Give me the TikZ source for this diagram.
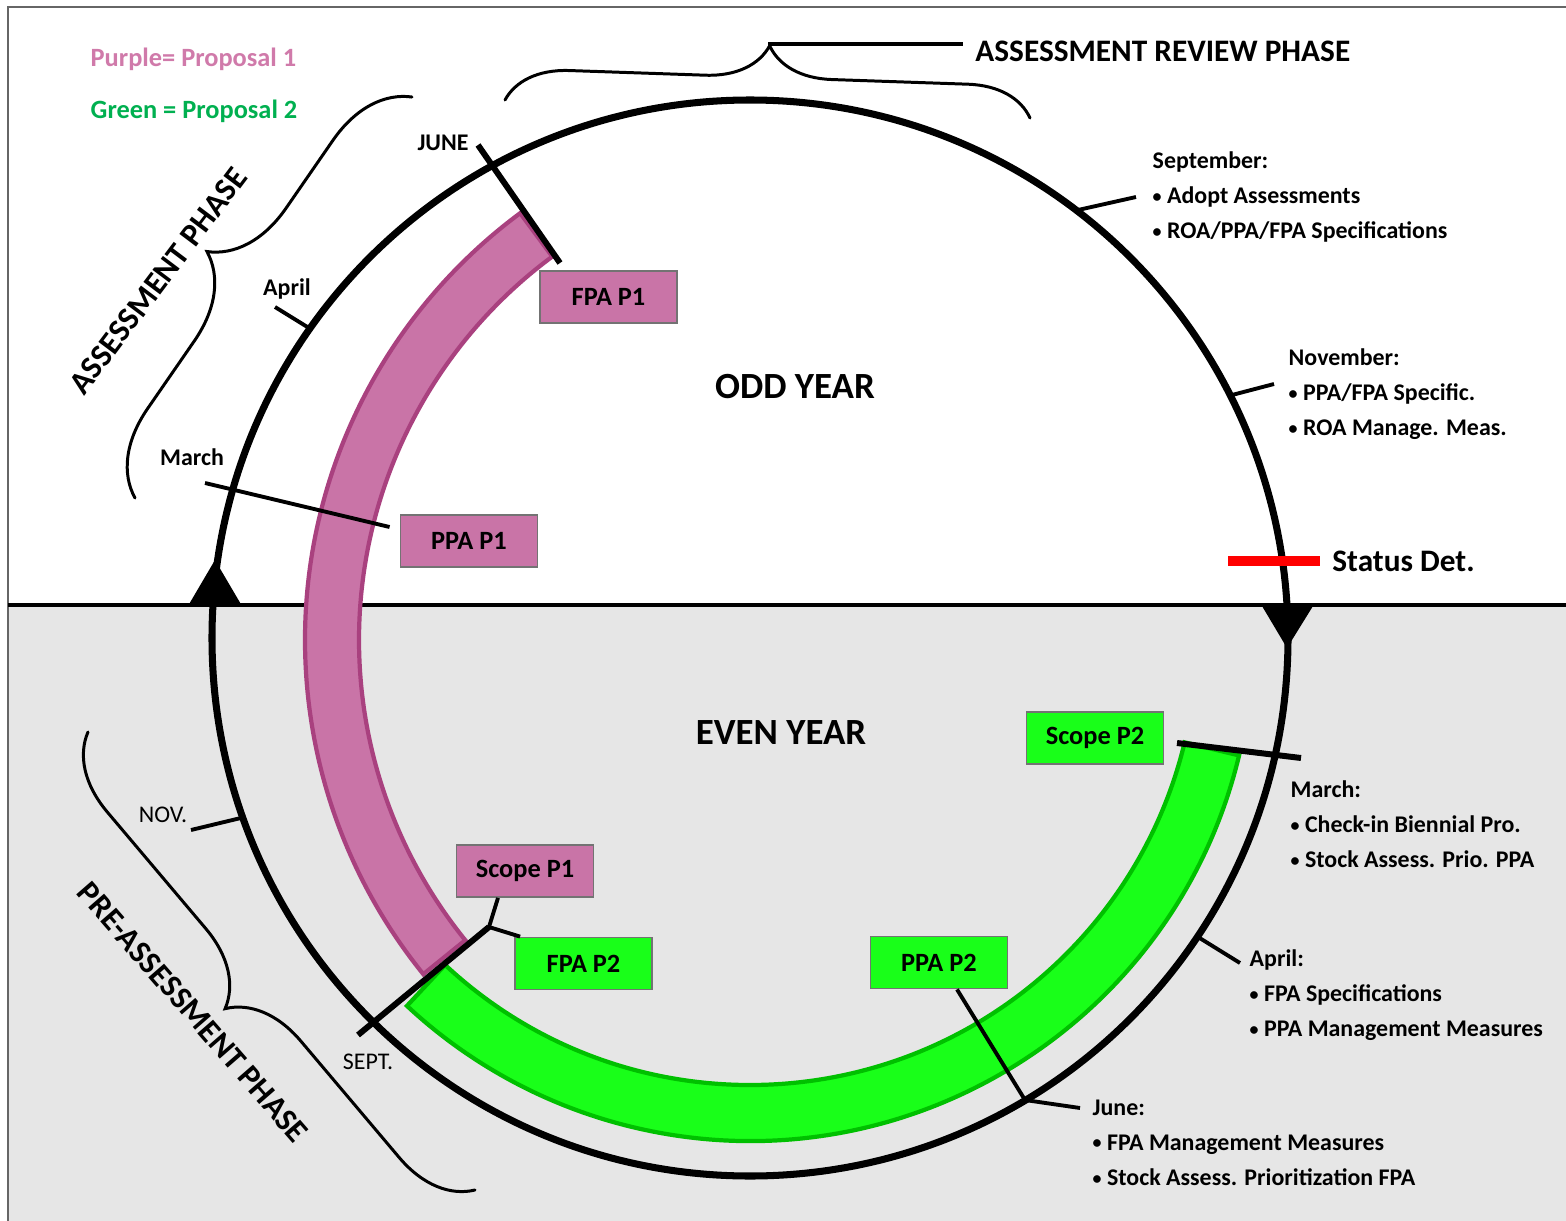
\documentclass[tikz,border=0pt]{standalone}
\usepackage{fontspec}
\setmainfont{Carlito}
\usetikzlibrary{calc,decorations.pathreplacing}

\definecolor{propone}{HTML}{C974A7}
\definecolor{proponeedge}{HTML}{A9417F}
\definecolor{proptwo}{HTML}{19FF19}
\definecolor{proptwoedge}{HTML}{00C000}
\definecolor{evenshade}{HTML}{E6E6E6}
\definecolor{legendpink}{HTML}{D07AAA}
\definecolor{legendgreen}{HTML}{00B050}

\newcommand{\nb}{\raisebox{0.12ex}{\scalebox{0.75}{\textbullet}}\ }

\tikzset{
  yearbox/.style={draw=black!55, line width=0.5pt, minimum width=1.37cm, minimum height=0.52cm,
    inner sep=0pt, font=\bfseries\fontsize{7.5}{9}\selectfont},
  monthtick/.style={line width=1.1pt},
  bigtick/.style={line width=1.7pt},
  phasebrace/.style={decorate, line width=0.85pt, line cap=round, decoration={brace, amplitude=#1}},
  monthlbl/.style={font=\bfseries\fontsize{6.8}{8}\selectfont},
  note/.style={inner sep=0pt, anchor=north west, align=left, font=\bfseries\fontsize{6.8}{10}\selectfont},
}

\begin{document}
\begin{tikzpicture}[x=0.01cm, y=0.01cm]
  \useasboundingbox (0,0) rectangle (1566,-1221);
  \fill[white] (0,0) rectangle (1566,-1221);
  \fill[evenshade] (8,-605) rectangle (1566,-1221);
  \draw[black!60, line width=0.6pt] (8,-1221) -- (8,-7) -- (1566,-7);
  \draw[line width=1.4pt] (8,-605) -- (1566,-605);

  \coordinate (hub) at (750,-638);
  \coordinate (pcen) at (836,-640);

  % proposal bands
  \filldraw[fill=propone, draw=proponeedge, line width=1.2pt]
    ($(pcen)+(126.5:477)$) arc[start angle=126.5, end angle=219, radius=477]
    -- ($(pcen)+(219:531)$) arc[start angle=219, end angle=126.5, radius=531] -- cycle;
  \filldraw[fill=proptwo, draw=proptwoedge, line width=1.2pt]
    ($(hub)+(227:447)$) arc[start angle=227, end angle=346.5, radius=447]
    -- ($(hub)+(346.5:503)$) arc[start angle=346.5, end angle=227, radius=503] -- cycle;

  % year cycle
  \draw[line width=2pt] (hub) circle[radius=538];
  \fill (188,-606) -- (242,-606) -- (215,-560) -- cycle;
  \fill (1262,-606) -- (1313,-606) -- (1287,-648) -- cycle;

  \node[font=\bfseries\fontsize{10.5}{12}\selectfont] (odd) at (795,-387) {ODD YEAR};
  \node[font=\bfseries\fontsize{10.5}{12}\selectfont] (even) at (781,-733) {EVEN YEAR};

  \node[yearbox, fill=propone] (fpa1) at (608.5,-297) {FPA P1};
  \node[yearbox, fill=propone] (ppa1) at (469,-541) {PPA P1};
  \node[yearbox, fill=propone] (scope1) at (525,-871) {Scope P1};
  \node[yearbox, fill=proptwo] (fpa2) at (583.5,-963.5) {FPA P2};
  \node[yearbox, fill=proptwo] (ppa2) at (939,-962.5) {PPA P2};
  \node[yearbox, fill=proptwo] (scope2) at (1095,-738) {Scope P2};

  % month ticks
  \draw[bigtick] (478,-145) -- (560,-263);
  \draw[monthtick] (275,-307) -- (309,-328);
  \draw[monthtick] (205,-483) -- ($(ppa1.west)+(-10,14)$);
  \draw[monthtick] (1078,-210) -- (1136,-197);
  \draw[monthtick] (1232,-395) -- (1274,-384);
  \draw[bigtick] (1177,-743) -- (1301,-758);
  \draw[monthtick] (1198,-937) -- (1240,-963);
  \draw[monthtick] (191,-830) -- (245,-817);
  \coordinate (septfork) at (489,-927);
  \draw[bigtick] (358,-1035) -- (septfork);
  \draw[monthtick] (septfork) -- ($(scope1.south)+(-27,0)$);
  \draw[monthtick] (septfork) -- ($(fpa2.north west)+(6,0)$);
  \coordinate (junebend) at (1025,-1100);
  \draw[monthtick] ($(ppa2.south)+(18,0)$) -- (junebend) -- (1080,-1108);

  \node[monthlbl] (junelbl) at (443,-143) {JUNE};
  \node[monthlbl] (aprlbl) at (287,-289) {April};
  \node[monthlbl] (marlbl) at (192,-457) {March};
  \node[font=\fontsize{6.8}{8}\selectfont] (novlbl) at (163,-815) {NOV.};
  \node[font=\fontsize{6.8}{8}\selectfont] (septlbl) at (368,-1062) {SEPT.};

  \node[anchor=west, font=\bfseries\fontsize{8.9}{10}\selectfont] (status) at (1320,-561) {Status Det.};
  \draw[red, line width=2.8pt] (1228,-561) -- (status.west);

  % notes
  \node[note] (septnote) at (1152,-151) {September:\\\nb Adopt Assessments\\\nb ROA/PPA/FPA Specifications};
  \node[note] (novnote) at (1288,-348) {November:\\\nb PPA/FPA Specific.\\\nb ROA Manage. Meas.};
  \node[note] (marnote) at (1290,-780) {March:\\\nb Check-in Biennial Pro.\\\nb Stock Assess. Prio. PPA};
  \node[note] (aprnote) at (1249,-949) {April:\\\nb FPA Specifications\\\nb PPA Management Measures};
  \node[note] (junenote) at (1092,-1099) {June:\\\nb FPA Management Measures\\\nb Stock Assess. Prioritization FPA};

  % legend
  \node[anchor=base west, inner sep=0pt, text=legendpink, font=\bfseries\fontsize{7.5}{9}\selectfont] (legone) at (90,-66) {Purple= Proposal 1};
  \node[anchor=base west, inner sep=0pt, text=legendgreen, font=\bfseries\fontsize{7.5}{9}\selectfont] (legtwo) at (90,-118) {Green = Proposal 2};

  % phases
  \draw[phasebrace=18pt] (505,-100) -- (1030,-118);
  \node[anchor=west, font=\bfseries\fontsize{8.9}{10}\selectfont] (arp) at (963,-51) {ASSESSMENT REVIEW PHASE};
  \coordinate (arptip) at (768,-44);
  \draw[line width=1.1pt] (arptip) -- (arptip -| arp.west);
  \draw[phasebrace=23pt] (135,-498) -- (412,-97);
  \node[rotate=53, font=\bfseries\fontsize{9.2}{11}\selectfont] (asslbl) at (158,-281) {ASSESSMENT PHASE};
  \draw[phasebrace=21pt] (475,-1190) -- (88,-732);
  \node[rotate=-49, font=\bfseries\fontsize{9.2}{11}\selectfont] (prelbl) at (193,-1012) {PRE-ASSESSMENT PHASE};
\end{tikzpicture}
\end{document}
